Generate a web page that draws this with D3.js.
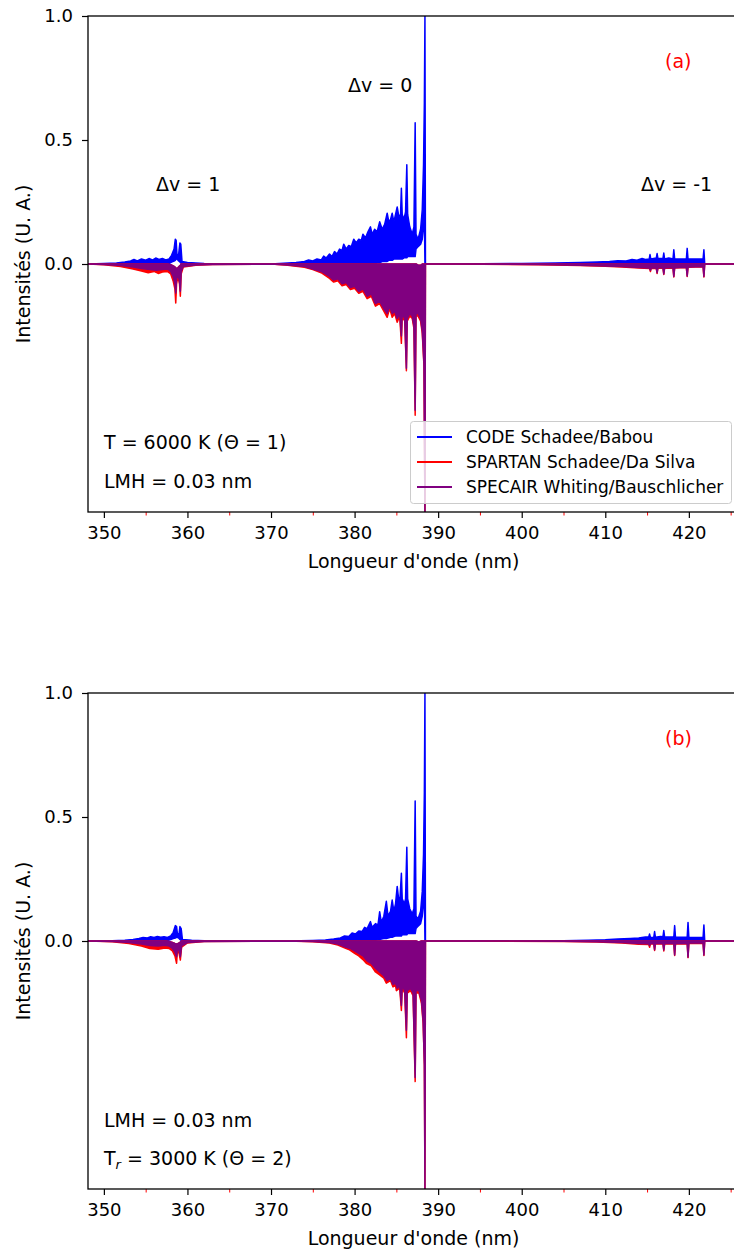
<!DOCTYPE html>
<html><head><meta charset="utf-8">
<script src="https://cdn.jsdelivr.net/npm/d3@7"></script>
<style>body{margin:0;background:#fff} text{font-family:"DejaVu Sans",sans-serif;fill:#000}</style>
</head><body><svg id="c" width="734" height="1251"></svg>
<script>
// ---------- data ----------
const xMajorTicks = [350,360,370,380,390,400,410,420];
const xMinorTicks = [355,365,375,385,395,405,415,425];
const yTicks = [0.0,0.5,1.0];
const xLimits = [348.1, 426.0];
const yLimits = [-1, 1];
const seriesNames = ["CODE Schadee/Babou","SPARTAN Schadee/Da Silva","SPECAIR Whiting/Bauschlicher"];
const seriesColors = ["#0000ff","#ff0000","#800080"];

// [wavelength nm, upper, lower]  panel (a)
const codeA = [[348,0,0],[350,0.002,0],[351.5,0.004,0],[352.5,0.008,0],[353.2,0.012,0],[353.6,0.018,0],[354,0.012,0],[354.5,0.02,0],[355,0.015,0],[355.4,0.022,0],[355.8,0.016,0],[356.2,0.024,0],[356.6,0.018,0],[357,0.022,0],[357.4,0.016,0],[357.8,0.02,0.002],[358.1,0.035,0.008],[358.4,0.06,0.012],[358.55,0.1,0.015],[358.65,0.095,0.02],[358.75,0.035,0.02],[358.95,0.04,0.012],[359.1,0.085,0.008],[359.2,0.08,0.004],[359.35,0.01,0],[360,0.006,0],[361,0.004,0],[362,0.002,0],[363,0.001,0],[370,0,0],
[371,0.002,0],[372,0.004,0],[373,0.006,0],[374,0.01,0],[374.5,0.016,0],[375,0.012,0],[375.5,0.02,0],[376,0.016,0],[376.3,0.032,0],[376.6,0.024,0],[377,0.04,0],[377.3,0.03,0],[377.6,0.05,0],[377.9,0.04,0],[378.2,0.06,0],[378.5,0.055,0],[378.7,0.08,0],[379,0.06,0],[379.3,0.075,0],[379.6,0.07,0],[379.9,0.1,0],[380.2,0.085,0],[380.5,0.1,0],[380.8,0.095,0],[381.0,0.12,0],[381.3,0.105,0],[381.6,0.13,0],[381.9,0.15,0],[382.1,0.12,0],[382.4,0.14,0],[382.7,0.13,0.005],[383.0,0.17,0.005],[383.3,0.14,0.01],[383.6,0.16,0.01],[383.9,0.205,0.01],[384.1,0.17,0.015],[384.3,0.18,0.015],[384.5,0.205,0.015],[384.7,0.17,0.02],[384.9,0.2,0.02],[385.1,0.23,0.02],[385.3,0.19,0.02],[385.5,0.2,0.02],[385.6,0.305,0.02],[385.7,0.2,0.02],[385.9,0.18,0.025],[386.1,0.21,0.025],[386.25,0.4,0.025],[386.35,0.2,0.03],[386.6,0.15,0.03],[386.9,0.12,0.03],[387.1,0.15,0.03],[387.25,0.57,0.03],[387.35,0.12,0.06],[387.6,0.1,0.07],[387.9,0.14,0.08],[388.1,0.22,0.1],[388.25,0.4,0.15],[388.35,0.65,0.2],[388.42,1.0,0],[388.48,0,0],
[392,0,0],[400,0.002,0],[404,0.004,0],[407,0.006,0],[409,0.008,0],[410.5,0.01,0],[411.5,0.013,0],[412.5,0.012,0],[413.2,0.018,0],[413.8,0.015,0],[414.4,0.022,0],[414.8,0.018,0],[415.25,0.02,0],[415.35,0.038,0],[415.45,0.02,0],[416.1,0.024,0],[416.2,0.042,0],[416.3,0.022,0],[416.9,0.022,0],[417.0,0.044,0],[417.1,0.02,0],[417.6,0.024,0],[418.1,0.02,0],[418.2,0.057,0],[418.3,0.02,0],[419.0,0.02,0],[419.7,0.02,0],[419.8,0.063,0],[419.9,0.02,0],[420.8,0.02,0],[421.7,0.02,0],[421.8,0.057,0],[421.9,0,0],[426,0,0]];

const spartanA = [[348,0,0],[350,0,-0.003],[352,0,-0.01],[353.5,0,-0.02],[354.5,0,-0.028],[355.3,0,-0.035],[356,0,-0.03],[356.5,0,-0.038],[357,0,-0.032],[357.6,0,-0.03],[358.0,-0.003,-0.04],[358.3,-0.008,-0.07],[358.5,-0.012,-0.1],[358.6,-0.015,-0.157],[358.7,-0.02,-0.08],[358.85,-0.015,-0.05],[359.05,-0.008,-0.08],[359.15,-0.005,-0.13],[359.25,0,-0.04],[359.5,0,-0.012],[361,0,-0.005],[363,0,-0.002],[370,0,0],
[372,0,-0.005],[374,0,-0.013],[375,0,-0.022],[376,0,-0.035],[377,0,-0.058],[377.5,0,-0.073],[378,0,-0.068],[378.5,0,-0.088],[379,0,-0.083],[379.5,0,-0.103],[380,0,-0.098],[380.5,0,-0.118],[381,0,-0.11],[381.5,0,-0.14],[382,0,-0.13],[382.5,0,-0.17],[383,0,-0.16],[383.5,0,-0.19],[383.9,0,-0.215],[384.2,0,-0.18],[384.5,0,-0.215],[384.8,0,-0.2],[385.1,0,-0.235],[385.4,0,-0.21],[385.6,0,-0.32],[385.7,0,-0.21],[386.0,0,-0.23],[386.2,0,-0.43],[386.3,0,-0.23],[386.6,0,-0.21],[386.9,0,-0.22],[387.1,0,-0.26],[387.25,0,-0.61],[387.35,0,-0.21],[387.6,-0.005,-0.21],[387.9,-0.005,-0.23],[388.1,0,-0.28],[388.3,0,-0.41],[388.42,0,-1.0],[388.48,0,0],
[392,0,0],[402,0,-0.003],[407,0,-0.006],[410,0,-0.009],[412,0,-0.012],[414,0,-0.016],[415.3,0,-0.018],[415.4,0,-0.03],[415.5,0,-0.017],[416.1,0,-0.018],[416.2,0,-0.038],[416.3,0,-0.017],[416.9,0,-0.017],[417.0,0,-0.042],[417.1,0,-0.017],[418.1,0,-0.017],[418.2,0,-0.052],[418.3,0,-0.016],[419.7,0,-0.014],[419.8,0,-0.05],[419.9,0,-0.013],[421.7,0,-0.011],[421.8,0,-0.052],[421.9,0,0],[426,0,0]];

const specairA = [[348,0,0],[350,0,-0.002],[352,0,-0.006],[353.5,0,-0.012],[354.5,0,-0.018],[355.5,0,-0.022],[356.3,0,-0.025],[357,0,-0.022],[357.6,0,-0.02],[358.0,-0.003,-0.03],[358.3,-0.008,-0.05],[358.5,-0.012,-0.08],[358.6,-0.015,-0.117],[358.7,-0.02,-0.06],[358.85,-0.015,-0.04],[359.05,-0.008,-0.07],[359.15,-0.005,-0.11],[359.25,0,-0.03],[359.5,0,-0.01],[361,0,-0.004],[363,0,-0.002],[370,0,0],
[372,0,-0.004],[374,0,-0.01],[375,0,-0.02],[376,0,-0.03],[377,0,-0.05],[377.5,0,-0.065],[378,0,-0.06],[378.5,0,-0.08],[379,0,-0.075],[379.5,0,-0.095],[380,0,-0.09],[380.5,0,-0.11],[381,0,-0.1],[381.5,0,-0.13],[382,0,-0.12],[382.5,0,-0.16],[383,0,-0.15],[383.5,0,-0.18],[383.9,0,-0.2],[384.2,0,-0.17],[384.5,0,-0.2],[384.8,0,-0.19],[385.1,0,-0.22],[385.4,0,-0.2],[385.6,0,-0.29],[385.7,0,-0.2],[386.0,0,-0.22],[386.2,0,-0.42],[386.3,0,-0.22],[386.6,0,-0.2],[386.9,0,-0.21],[387.1,0,-0.25],[387.25,0,-0.59],[387.35,0,-0.2],[387.6,-0.005,-0.2],[387.9,-0.005,-0.22],[388.1,0,-0.27],[388.3,0,-0.4],[388.42,0,-1.0],[388.48,0,0],
[392,0,0],[402,0,-0.002],[407,0,-0.005],[410,0,-0.008],[412,0,-0.01],[414,0,-0.014],[415.3,0,-0.016],[415.4,0,-0.025],[415.5,0,-0.015],[416.1,0,-0.016],[416.2,0,-0.035],[416.3,0,-0.015],[416.9,0,-0.015],[417.0,0,-0.04],[417.1,0,-0.015],[418.1,0,-0.015],[418.2,0,-0.05],[418.3,0,-0.015],[419.7,0,-0.013],[419.8,0,-0.048],[419.9,0,-0.012],[421.7,0,-0.01],[421.8,0,-0.05],[421.9,0,0],[426,0,0]];

// panel (b)
const codeB = [[348,0,0],[351,0.001,0],[352.5,0.003,0],[353.5,0.006,0],[354.2,0.01,0],[354.7,0.014,0],[355.2,0.012,0],[355.6,0.017,0],[356.0,0.014,0],[356.4,0.018,0],[356.8,0.015,0],[357.2,0.017,0],[357.6,0.014,0.002],[358.0,0.02,0.006],[358.3,0.035,0.01],[358.55,0.062,0.012],[358.7,0.058,0.015],[358.8,0.028,0.015],[359.0,0.03,0.01],[359.1,0.058,0.006],[359.25,0.05,0.002],[359.4,0.006,0],[360.5,0.003,0],[362,0.001,0],[372,0,0],
[375,0.002,0],[376.5,0.004,0],[377.5,0.008,0],[378.3,0.012,0],[378.8,0.02,0],[379.3,0.018,0],[379.7,0.032,0],[380.1,0.028,0],[380.5,0.04,0],[380.9,0.038,0],[381.2,0.055,0],[381.5,0.05,0],[381.9,0.078,0],[382.1,0.055,0],[382.5,0.07,0.003],[382.8,0.065,0.005],[383.0,0.118,0.005],[383.2,0.075,0.008],[383.5,0.1,0.01],[383.8,0.16,0.01],[384.0,0.1,0.012],[384.3,0.12,0.015],[384.5,0.165,0.015],[384.7,0.12,0.018],[384.9,0.15,0.02],[385.1,0.22,0.02],[385.3,0.16,0.02],[385.45,0.18,0.02],[385.6,0.273,0.02],[385.7,0.17,0.025],[385.95,0.15,0.025],[386.1,0.17,0.025],[386.25,0.378,0.025],[386.35,0.17,0.03],[386.6,0.13,0.03],[386.9,0.11,0.03],[387.1,0.13,0.03],[387.25,0.565,0.03],[387.35,0.1,0.05],[387.6,0.09,0.06],[387.9,0.12,0.07],[388.1,0.2,0.1],[388.25,0.35,0.15],[388.35,0.6,0.22],[388.42,1.0,0],[388.48,0,0],
[392,0,0],[405,0.001,0],[408,0.003,0],[410,0.005,0],[411.5,0.008,0],[413,0.01,0],[414,0.012,0],[414.8,0.016,0],[415.2,0.016,0],[415.3,0.028,0],[415.4,0.014,0],[415.8,0.015,0],[415.9,0.038,0],[416.0,0.015,0],[416.6,0.018,0],[416.9,0.017,0],[417.0,0.042,0],[417.1,0.016,0],[417.8,0.016,0],[418.2,0.016,0],[418.3,0.062,0],[418.4,0.015,0],[419.2,0.015,0],[419.8,0.015,0],[419.9,0.075,0],[420.0,0.015,0],[421.0,0.014,0],[421.7,0.014,0],[421.8,0.065,0],[421.9,0,0],[426,0,0]];

const spartanB = [[348,0,0],[351,0,-0.003],[353,0,-0.01],[354.5,0,-0.02],[355.5,0,-0.03],[356.5,0,-0.033],[357.3,0,-0.028],[357.8,-0.002,-0.03],[358.2,-0.006,-0.04],[358.5,-0.01,-0.06],[358.7,-0.012,-0.09],[358.8,-0.012,-0.04],[359.0,-0.008,-0.05],[359.15,-0.004,-0.077],[359.3,0,-0.025],[360,0,-0.008],[362,0,-0.002],[372,0,0],
[375,0,-0.003],[377,0,-0.008],[378,0,-0.016],[379,0,-0.03],[379.4,0,-0.036],[380,0,-0.05],[380.5,0,-0.06],[381,0,-0.075],[381.4,0,-0.09],[382,0,-0.1],[382.5,0,-0.125],[383,0,-0.137],[383.5,0,-0.15],[383.8,0,-0.17],[384.3,0,-0.16],[384.6,0,-0.185],[384.9,0,-0.18],[385.0,0,-0.2],[385.4,0,-0.19],[385.6,0,-0.28],[385.7,0,-0.19],[386.0,0,-0.21],[386.2,0,-0.39],[386.3,0,-0.21],[386.7,0,-0.2],[387.0,0,-0.22],[387.25,0,-0.567],[387.35,0,-0.21],[387.7,-0.004,-0.21],[388.0,0,-0.25],[388.2,0,-0.33],[388.35,0,-0.5],[388.42,0,-1.0],[388.48,0,0],
[395,0,0],[405,0,-0.002],[409,0,-0.004],[412,0,-0.008],[414,0,-0.013],[415.2,0,-0.014],[415.3,0,-0.025],[415.4,0,-0.012],[415.8,0,-0.012],[415.9,0,-0.038],[416.0,0,-0.012],[416.9,0,-0.012],[417.0,0,-0.04],[417.1,0,-0.012],[418.2,0,-0.012],[418.3,0,-0.058],[418.4,0,-0.012],[419.8,0,-0.012],[419.9,0,-0.067],[420.0,0,-0.01],[421.7,0,-0.01],[421.8,0,-0.058],[421.9,0,0],[426,0,0]];

const specairB = [[348,0,0],[351,0,-0.002],[353,0,-0.006],[354.5,0,-0.012],[355.5,0,-0.018],[356.5,0,-0.02],[357.3,0,-0.017],[357.8,-0.002,-0.02],[358.2,-0.006,-0.03],[358.5,-0.01,-0.045],[358.7,-0.012,-0.063],[358.8,-0.012,-0.03],[359.0,-0.008,-0.04],[359.15,-0.004,-0.063],[359.3,0,-0.02],[360,0,-0.006],[362,0,-0.002],[372,0,0],
[375,0,-0.002],[377,0,-0.006],[378,0,-0.012],[379,0,-0.025],[379.5,0,-0.03],[380,0,-0.04],[380.5,0,-0.05],[381,0,-0.06],[381.5,0,-0.08],[382,0,-0.09],[382.5,0,-0.11],[383,0,-0.125],[383.5,0,-0.14],[383.9,0,-0.16],[384.3,0,-0.15],[384.6,0,-0.175],[384.9,0,-0.17],[385.1,0,-0.19],[385.4,0,-0.18],[385.6,0,-0.26],[385.7,0,-0.18],[386.0,0,-0.2],[386.2,0,-0.36],[386.3,0,-0.2],[386.7,0,-0.19],[387.0,0,-0.21],[387.25,0,-0.55],[387.35,0,-0.2],[387.7,-0.004,-0.2],[388.0,0,-0.24],[388.2,0,-0.32],[388.35,0,-0.5],[388.42,0,-1.0],[388.48,0,0],
[395,0,0],[405,0,-0.001],[409,0,-0.003],[412,0,-0.006],[414,0,-0.01],[415.2,0,-0.011],[415.3,0,-0.018],[415.4,0,-0.01],[415.8,0,-0.01],[415.9,0,-0.035],[416.0,0,-0.01],[416.9,0,-0.01],[417.0,0,-0.036],[417.1,0,-0.01],[418.2,0,-0.01],[418.3,0,-0.056],[418.4,0,-0.01],[419.8,0,-0.01],[419.9,0,-0.065],[420.0,0,-0.008],[421.7,0,-0.008],[421.8,0,-0.056],[421.9,0,0],[426,0,0]];

// ---------- drawing ----------
const svg = d3.select("#c");
const L = 88, R = 739;
const panels = [
  {top:16, bottom:512, series:[codeA, spartanA, specairA], tag:"(a)", legend:true,
   notes:[{t:"Δv = 1", x:156, y:191},{t:"Δv = 0", x:348, y:92},{t:"Δv = -1", x:641, y:191}],
   info:[{t:"T = 6000 K (Θ = 1)", y:449},{t:"LMH = 0.03 nm", y:488}]},
  {top:693, bottom:1189, series:[codeB, spartanB, specairB], tag:"(b)", legend:false,
   notes:[], info:[{t:"LMH = 0.03 nm", y:1127},{t:"Tr", y:1165}]}
];

panels.forEach((p, i) => {
  const x = d3.scaleLinear().domain(xLimits).range([L, R]);
  const y = d3.scaleLinear().domain(yLimits).range([p.bottom, p.top]);
  const g = svg.append("g");
  const clipId = "clip" + i;
  svg.append("clipPath").attr("id", clipId).append("rect")
    .attr("x", L).attr("y", p.top).attr("width", R - L).attr("height", p.bottom - p.top);

  const area = d3.area().x(d => x(d[0])).y0(d => y(d[2])).y1(d => y(d[1]));
  const plot = g.append("g").attr("clip-path", `url(#${clipId})`);
  p.series.forEach((s, k) => {
    plot.append("path").datum(s).attr("d", area)
      .attr("fill", seriesColors[k]).attr("stroke", seriesColors[k])
      .attr("stroke-width", 1.5).attr("stroke-linejoin", "round");
  });

  // axes
  const ax = g.append("g").attr("transform", `translate(0,${p.bottom})`)
    .call(d3.axisBottom(x).tickValues(xMajorTicks).tickSize(6).tickPadding(8).tickFormat(d3.format("d")));
  ax.select(".domain").remove();
  ax.selectAll("line").attr("stroke", "#000").attr("stroke-width", 1.2);
  ax.selectAll("text").attr("font-size", 18).attr("font-family", "DejaVu Sans");
  const axm = g.append("g").attr("transform", `translate(0,${p.bottom})`)
    .call(d3.axisBottom(x).tickValues(xMinorTicks).tickSize(3.5).tickFormat(""));
  axm.select(".domain").remove();
  axm.selectAll("line").attr("stroke", "#ff0000").attr("stroke-width", 1);

  const ay = g.append("g").attr("transform", `translate(${L},0)`)
    .call(d3.axisLeft(y).tickValues(yTicks).tickSize(6).tickPadding(9).tickFormat(d3.format(".1f")));
  ay.select(".domain").remove();
  ay.selectAll("line").attr("stroke", "#000").attr("stroke-width", 1.2);
  ay.selectAll("text").attr("font-size", 18).attr("font-family", "DejaVu Sans");

  // spines
  g.append("rect").attr("x", L).attr("y", p.top).attr("width", R - L).attr("height", p.bottom - p.top)
    .attr("fill", "none").attr("stroke", "#000").attr("stroke-width", 1.3);

  // labels
  g.append("text").attr("x", (L + R) / 2).attr("y", p.bottom + 56).attr("text-anchor", "middle")
    .attr("font-size", 19).text("Longueur d'onde (nm)");
  g.append("text").attr("transform", `translate(30,${(p.top + p.bottom) / 2}) rotate(-90)`)
    .attr("text-anchor", "middle").attr("font-size", 19).text("Intensités (U. A.)");

  g.append("text").attr("x", 665).attr("y", p.top + 52).attr("font-size", 19)
    .style("fill", "#ff0000").text(p.tag);

  p.notes.forEach(n => g.append("text").attr("x", n.x).attr("y", n.y).attr("font-size", 19).text(n.t));
  p.info.forEach(n => {
    const t = g.append("text").attr("x", 104).attr("y", n.y).attr("font-size", 19);
    if (n.t === "Tr") {
      t.append("tspan").text("T");
      t.append("tspan").attr("font-style", "italic").attr("font-size", 13).attr("dy", 4).text("r");
      t.append("tspan").attr("dy", -4).text(" = 3000 K (Θ = 2)");
    } else t.text(n.t);
  });

  if (p.legend) {
    const lg = g.append("g");
    lg.append("rect").attr("x", 410.5).attr("y", 421.5).attr("width", 321).attr("height", 82).attr("rx", 3)
      .attr("fill", "#fff").attr("fill-opacity", 0.8).attr("stroke", "#cccccc").attr("stroke-width", 1);
    seriesNames.forEach((nm, k) => {
      const yy = 437 + k * 25;
      lg.append("line").attr("x1", 417).attr("x2", 452).attr("y1", yy).attr("y2", yy)
        .attr("stroke", seriesColors[k]).attr("stroke-width", 1.8);
      lg.append("text").attr("x", 466).attr("y", yy + 6).attr("font-size", 17).text(nm);
    });
  }
});
</script></body></html>
